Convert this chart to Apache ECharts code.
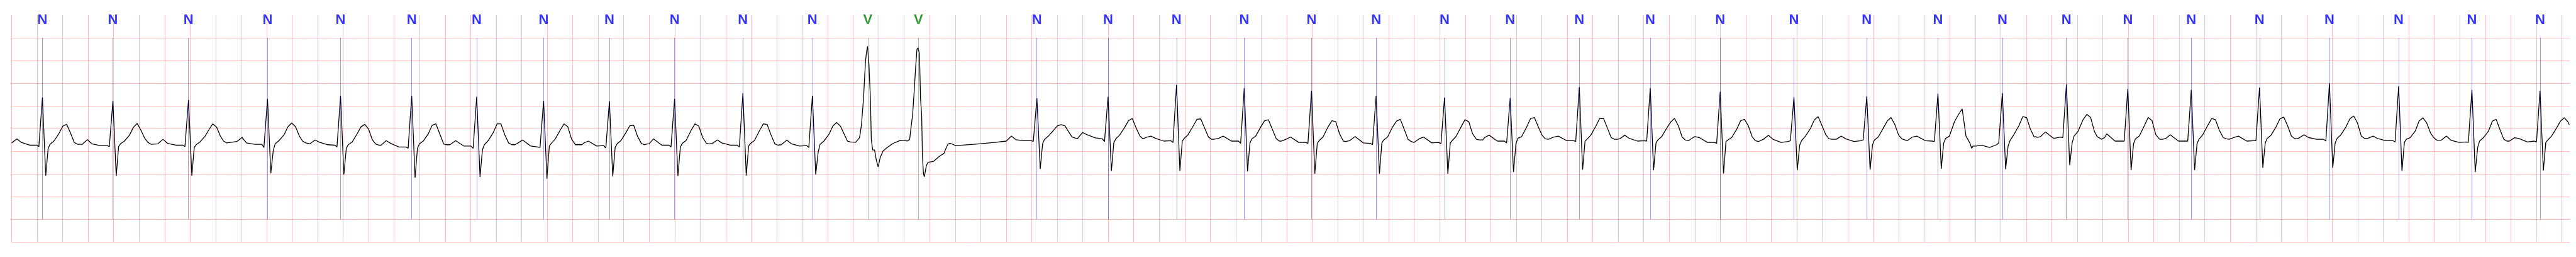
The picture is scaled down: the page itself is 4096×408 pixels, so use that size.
<!DOCTYPE html>
<html><head><meta charset="utf-8">
<script src="https://cdn.jsdelivr.net/npm/echarts@6/dist/echarts.min.js"></script>
<style>html,body{margin:0;padding:0;background:#fff}#c{width:4096px;height:408px}</style>
</head><body><div id="c"></div><script>
// Annotation (beat) times in seconds and their labels
const annTimes = [0.2415, 0.7942, 1.3872, 2.0067, 2.5796, 3.1377, 3.6474, 4.1720, 4.6882, 5.1993, 5.7352, 6.2801,
  6.7145, 7.1119,
  8.0408, 8.5989, 9.1360, 9.6667, 10.1945, 10.7011, 11.2377, 11.7526, 12.2946, 12.8511, 13.3998, 13.9780,
  14.5492, 15.1073, 15.6123, 16.1148, 16.5962, 17.0942, 17.6293, 18.1776, 18.7204, 19.2951, 19.8293];
const annTypes = ['N','N','N','N','N','N','N','N','N','N','N','N','V','V',
  'N','N','N','N','N','N','N','N','N','N','N','N','N','N','N','N','N','N','N','N','N','N','N'];

// Sample offsets (s) relative to each normal beat's R peak
const nOffsets = [-0.24, -0.20, -0.165, -0.10, -0.045, -0.028, 0, 0.026, 0.045, 0.06, 0.09, 0.13, 0.16, 0.19, 0.22, 0.25, 0.275, 0.30];
// Amplitudes (mV) read for each normal beat at those offsets
const nBeatValues = [
  [-0.32,-0.23,-0.31,-0.37,-0.37,-0.40,0.68,-1.04,-0.44,-0.35,-0.28,-0.11,0.05,0.09,-0.10,-0.31,-0.35,-0.35],
  [-0.35,-0.25,-0.34,-0.38,-0.38,-0.40,0.61,-1.05,-0.40,-0.34,-0.28,-0.15,0.02,0.11,-0.04,-0.22,-0.31,-0.35],
  [-0.34,-0.24,-0.33,-0.37,-0.37,-0.40,0.63,-1.04,-0.42,-0.36,-0.30,-0.17,-0.03,0.10,0.03,-0.17,-0.28,-0.32],
  [-0.29,-0.20,-0.32,-0.35,-0.35,-0.42,0.65,-0.99,-0.49,-0.34,-0.27,-0.14,0.035,0.12,0.035,-0.17,-0.28,-0.32],
  [-0.34,-0.255,-0.305,-0.36,-0.37,-0.41,0.72,-1.02,-0.44,-0.36,-0.305,-0.12,0.035,0.09,-0.015,-0.255,-0.34,-0.37],
  [-0.37,-0.27,-0.33,-0.41,-0.41,-0.44,0.72,-1.09,-0.44,-0.34,-0.28,-0.12,0.07,0.10,-0.12,-0.34,-0.37,-0.36],
  [-0.36,-0.34,-0.27,-0.39,-0.39,-0.44,0.70,-1.07,-0.47,-0.36,-0.27,-0.09,0.10,0.10,-0.14,-0.32,-0.36,-0.36],
  [-0.36,-0.32,-0.255,-0.39,-0.41,-0.42,0.61,-1.11,-0.39,-0.33,-0.24,-0.04,0.10,0.035,-0.24,-0.36,-0.36,-0.36],
  [-0.36,-0.32,-0.28,-0.39,-0.38,-0.43,0.60,-1.06,-0.42,-0.34,-0.27,-0.09,0.06,0.07,-0.17,-0.33,-0.36,-0.34],
  [-0.36,-0.34,-0.23,-0.37,-0.37,-0.41,0.65,-1.05,-0.42,-0.33,-0.27,-0.04,0.10,0.05,-0.20,-0.33,-0.34,-0.32],
  [-0.33,-0.255,-0.32,-0.37,-0.37,-0.41,0.78,-1.04,-0.39,-0.33,-0.27,-0.05,0.10,0.086,-0.14,-0.34,-0.37,-0.36],
  [-0.36,-0.26,-0.34,-0.39,-0.38,-0.42,0.72,-1.02,-0.53,-0.35,-0.28,-0.13,0.05,0.13,0.05,-0.13,-0.28,-0.30],
  [-0.28,-0.17,-0.25,-0.27,-0.27,-0.285,0.669,-0.893,-0.332,-0.242,-0.17,-0.043,0.055,0.084,0.055,-0.08,-0.188,-0.213],
  [-0.224,-0.09,-0.14,-0.21,-0.23,-0.29,0.70,-0.94,-0.32,-0.23,-0.15,0.02,0.17,0.22,0.01,-0.17,-0.23,-0.20],
  [-0.20,-0.17,-0.22,-0.28,-0.27,-0.31,0.96,-0.94,-0.28,-0.22,-0.14,0.05,0.20,0.21,0.01,-0.19,-0.24,-0.255],
  [-0.24,-0.22,-0.17,-0.28,-0.28,-0.33,0.89,-0.95,-0.32,-0.23,-0.17,0.035,0.17,0.19,-0.015,-0.22,-0.28,-0.27],
  [-0.28,-0.24,-0.19,-0.31,-0.31,-0.33,0.83,-1.0,-0.33,-0.27,-0.19,0.035,0.17,0.15,-0.12,-0.28,-0.29,-0.27],
  [-0.29,-0.28,-0.18,-0.32,-0.33,-0.36,0.72,-1.0,-0.32,-0.255,-0.19,0.035,0.16,0.20,-0.015,-0.24,-0.29,-0.31],
  [-0.31,-0.23,-0.19,-0.32,-0.31,-0.34,0.68,-1.0,-0.32,-0.27,-0.18,0.035,0.19,0.15,-0.12,-0.24,-0.255,-0.255],
  [-0.255,-0.20,-0.15,-0.28,-0.28,-0.32,0.67,-0.96,-0.34,-0.22,-0.18,0.035,0.22,0.24,0.035,-0.15,-0.23,-0.24],
  [-0.24,-0.19,-0.17,-0.27,-0.27,-0.29,0.91,-0.91,-0.28,-0.24,-0.15,0.05,0.22,0.22,0.01,-0.20,-0.24,-0.24],
  [-0.23,-0.15,-0.22,-0.28,-0.27,-0.28,0.89,-0.92,-0.32,-0.255,-0.18,0.01,0.14,0.22,0.06,-0.19,-0.255,-0.27],
  [-0.27,-0.18,-0.20,-0.31,-0.31,-0.33,0.81,-0.995,-0.29,-0.255,-0.20,-0.015,0.17,0.20,0.06,-0.18,-0.27,-0.29],
  [-0.24,-0.15,-0.24,-0.31,-0.29,-0.27,0.69,-0.92,-0.37,-0.27,-0.17,0.0,0.19,0.26,0.06,-0.14,-0.23,-0.24],
  [-0.24,-0.17,-0.23,-0.29,-0.27,-0.255,0.71,-0.91,-0.36,-0.255,-0.19,0.01,0.16,0.24,0.086,-0.15,-0.23,-0.255],
  [-0.27,-0.19,-0.17,-0.27,-0.28,-0.29,0.77,-0.89,-0.32,-0.22,-0.17,0.15,0.30,0.43,-0.17,-0.32,-0.39,-0.39],
  [-0.44,-0.38,-0.37,-0.42,-0.36,-0.32,0.78,-0.90,-0.39,-0.27,-0.14,0.06,0.26,0.24,-0.015,-0.19,-0.20,-0.18],
  [-0.18,-0.17,-0.08,-0.22,-0.19,-0.20,0.97,-0.81,-0.32,-0.17,-0.07,0.19,0.31,0.24,-0.07,-0.19,-0.24,-0.20],
  [-0.18,-0.23,-0.12,-0.28,-0.28,-0.28,0.87,-0.92,-0.34,-0.23,-0.17,0.06,0.24,0.17,-0.14,-0.24,-0.24,-0.22],
  [-0.23,-0.22,-0.14,-0.28,-0.28,-0.28,0.85,-0.92,-0.34,-0.24,-0.14,0.07,0.22,0.19,-0.04,-0.20,-0.23,-0.24],
  [-0.24,-0.20,-0.17,-0.28,-0.27,-0.27,0.90,-0.87,-0.32,-0.22,-0.15,0.035,0.21,0.25,0.06,-0.17,-0.22,-0.23],
  [-0.22,-0.14,-0.20,-0.24,-0.24,-0.28,0.995,-0.87,-0.32,-0.22,-0.14,0.035,0.21,0.275,0.12,-0.17,-0.22,-0.22],
  [-0.224,-0.17,-0.224,-0.27,-0.27,-0.30,0.93,-0.94,-0.31,-0.24,-0.205,-0.06,0.16,0.235,0.12,-0.10,-0.205,-0.26],
  [-0.26,-0.17,-0.26,-0.31,-0.30,-0.31,0.85,-0.965,-0.42,-0.28,-0.205,-0.06,0.16,0.20,-0.025,-0.24,-0.28,-0.26],
  [-0.28,-0.205,-0.224,-0.30,-0.28,-0.30,0.83,-0.93,-0.31,-0.26,-0.17,0.011,0.16,0.235,0.14,null,null,null]
];

// The two ventricular beats and the pause after them (time s, amplitude mV)
const vSegT = [6.619,6.650,6.665,6.681,6.696,6.704,6.713,6.724,6.735,6.742,6.753,6.768,6.781,6.796,6.812,6.835,6.866,6.912,6.973,
  7.027,7.043,7.053,7.066,7.078,7.089,7.100,7.109,7.120,7.128,7.137,7.143,7.151,7.158,7.174,7.186,7.228,7.274,7.312,7.328,7.343,7.358,7.405,7.543,7.697];
const vSegV = [-0.307,-0.205,0.084,0.662,1.458,1.675,1.812,1.385,0.662,-0.242,-0.477,-0.477,-0.694,-0.849,-0.640,-0.495,-0.423,-0.332,-0.260,
  -0.278,-0.242,0.011,0.301,0.807,1.313,1.747,1.776,1.638,0.662,0.301,-0.603,-1.001,-1.066,-0.820,-0.748,-0.730,-0.621,-0.549,-0.440,-0.350,-0.325,-0.379,-0.350,-0.314];

// Trace start and end points
const headPoint = [0, -0.32];
const tailPoint = [20.058, 0.08];

// Axes
const xMin = 0, xMax = 20.062, xStep = 0.2;
const yMin = -2.5, yMax = 2.5, yStep = 0.5;
const markLo = -2, markHi = 2, labelY = 2.39;

// ---- build trace ----
const trace = [headPoint];
let nb = 0;
annTimes.forEach((t, i) => {
  if (annTypes[i] !== 'N') return;
  const vals = nBeatValues[nb++];
  nOffsets.forEach((o, j) => { if (vals[j] !== null) trace.push([+(t + o).toFixed(4), vals[j]]); });
});
vSegT.forEach((t, i) => trace.push([t, vSegV[i]]));
trace.push(tailPoint);
trace.sort((a, b) => a[0] - b[0]);

const typeColor = { N: '#0000ff', V: '#008000' };
const typeLine = { N: 'rgba(0,0,255,0.5)', V: 'rgba(0,128,0,0.5)' };
const gridRed = 'rgba(255,0,0,0.26)';

const nX = Math.round((xMax - xMin) / xStep);
const xColors = Array(nX + 1).fill(gridRed).concat(['rgba(0,0,0,0)']);
const nY = Math.round((yMax - yMin) / yStep);
const yColors = Array(nY).fill(gridRed).concat(['rgba(0,0,0,0)']);

const chart = echarts.init(document.getElementById('c'), null, { renderer: 'canvas' });
chart.setOption({
  animation: false,
  backgroundColor: '#ffffff',
  grid: { left: 18.5, right: 10, top: 23.9, bottom: 24.2, containLabel: false },
  xAxis: {
    type: 'value', min: xMin, max: xMax, interval: xStep,
    axisLine: { show: false }, axisTick: { show: false }, axisLabel: { show: false },
    splitLine: { show: true, lineStyle: { color: xColors, width: 1 } }
  },
  yAxis: {
    type: 'value', min: yMin, max: yMax, interval: yStep,
    axisLine: { show: false }, axisTick: { show: false }, axisLabel: { show: false },
    splitLine: { show: true, lineStyle: { color: yColors, width: 1 } }
  },
  series: [
    {
      type: 'line', data: trace, showSymbol: false, symbol: 'none', smooth: false,
      lineStyle: { color: '#000000', width: 1.3 }, z: 3,
      markLine: {
        silent: true, symbol: ['none', 'none'], label: { show: false }, animation: false,
        data: annTimes.map((t, i) => [
          { coord: [t, markLo], lineStyle: { color: typeLine[annTypes[i]], width: 0.8, type: 'solid' } },
          { coord: [t, markHi], lineStyle: { color: typeLine[annTypes[i]], width: 0.8, type: 'solid' } }
        ])
      }
    },
    {
      type: 'scatter', symbolSize: 1, itemStyle: { color: 'rgba(0,0,0,0)' }, z: 4,
      data: annTimes.map((t, i) => ({
        value: [t, labelY], name: annTypes[i],
        label: { color: typeColor[annTypes[i]] }
      })),
      label: {
        show: true, position: 'inside', formatter: p => p.name,
        fontFamily: '"Liberation Sans Narrow", "Liberation Sans", Arial, sans-serif',
        fontWeight: 'bold', fontSize: 22, verticalAlign: 'middle', align: 'center'
      }
    }
  ]
});
</script></body></html>
